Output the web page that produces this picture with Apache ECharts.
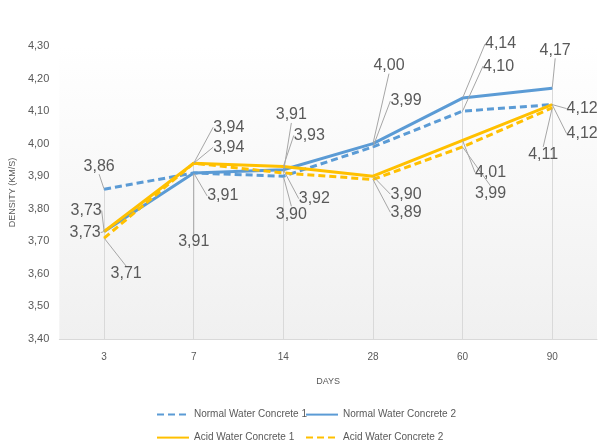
<!DOCTYPE html>
<html lang="en">
<head>
    <meta charset="UTF-8">
    <title>Density</title>
    <style>
        html, body { margin: 0; padding: 0; background: #fff; }
    </style>
</head>
<body>
<div id="main" style="width: 605px;height:443px;"></div>
<script src="https://cdn.jsdelivr.net/npm/echarts@6/dist/echarts.min.js"></script>
<script type="text/javascript">
    // data
    var days = ['3', '7', '14', '28', '60', '90'];
    var normal1 = [3.86, 3.91, 3.90, 3.99, 4.10, 4.12];
    var normal2 = [3.73, 3.91, 3.92, 4.00, 4.14, 4.17];
    var acid1 = [3.73, 3.94, 3.93, 3.90, 4.01, 4.12];
    var acid2 = [3.71, 3.94, 3.91, 3.89, 3.99, 4.11];

    // where each value label sits relative to its point (px)
    var labelShift = [
        [[-5, -23], [29, 23], [8, 38], [33, -46], [36, -45], [30, 4]],
        [[-19, 1], [0, 69], [31, 29], [16, -78], [38, -54], [3, -38]],
        [[-18, -21], [35, -36], [26, -31], [33, 18], [28, 32], [30, 29]],
        [[22, 36], [35, -16], [8, -58], [33, 33], [28, 47], [-9, 47]]
    ];

    var blue = '#5B9BD5';
    var yellow = '#FFC000';
    var textGray = '#595959';
    var fontName = 'Liberation Sans';

    var yMin = 3.4;

    // drop lines go from the highest point down to the axis
    var dropLines = days.map(function (d, i) {
        var top = Math.max(normal1[i], normal2[i], acid1[i], acid2[i]);
        return [{coord: [i, top]}, {coord: [i, yMin]}];
    });

    function comma(v) {
        return v.toFixed(2).replace('.', ',');
    }

    function makeSeries(name, data, color, type, idx) {
        return {
            name: name,
            type: 'line',
            data: data,
            color: color,
            symbol: 'circle',
            symbolSize: 1,
            itemStyle: {color: color},
            lineStyle: {color: color, width: 3, type: type},
            label: {
                show: true,
                position: 'inside',
                color: textGray,
                fontFamily: fontName,
                fontSize: 16,
                formatter: function (p) { return comma(p.value); }
            },
            labelLine: {
                show: true,
                lineStyle: {color: '#a6a6a6', width: 1}
            },
            labelLayout: function (p) {
                var sh = labelShift[idx][p.dataIndex];
                return {dx: sh[0], dy: sh[1], hideOverlap: false};
            },
            emphasis: {disabled: true},
            z: 3
        };
    }

    var myChart = echarts.init(document.getElementById('main'));

    var series = [
        makeSeries('Normal Water Concrete 1', normal1, blue, [7, 4], 0),
        makeSeries('Normal Water Concrete 2', normal2, blue, 'solid', 1),
        makeSeries('Acid Water Concrete 1', acid1, yellow, 'solid', 2),
        makeSeries('Acid Water Concrete 2', acid2, yellow, [7, 4], 3)
    ];
    series[0].markLine = {
        silent: true,
        symbol: 'none',
        label: {show: false},
        lineStyle: {color: '#d9d9d9', width: 1, type: 'solid'},
        data: dropLines,
        z: 1
    };

    // one legend box per entry so the two columns line up
    function legendAt(name, left, top) {
        return {
            data: [name],
            left: left,
            top: top,
            padding: 0,
            itemWidth: 32,
            itemHeight: 14,
            itemStyle: {opacity: 0},
            textStyle: {color: textGray, fontFamily: fontName, fontSize: 10},
            selectedMode: false
        };
    }

    var option = {
        animation: false,
        backgroundColor: '#ffffff',
        grid: {
            left: 57,
            right: 8,
            top: 46,
            bottom: 104,
            show: true,
            borderWidth: 0,
            backgroundColor: new echarts.graphic.LinearGradient(0, 0, 0, 1, [
                {offset: 0, color: '#ffffff'},
                {offset: 1, color: '#f0f0f0'}
            ])
        },
        legend: [
            legendAt('Normal Water Concrete 1', 156, 409),
            legendAt('Normal Water Concrete 2', 305, 409),
            legendAt('Acid Water Concrete 1', 156, 432),
            legendAt('Acid Water Concrete 2', 305, 432)
        ],
        xAxis: {
            type: 'category',
            data: days,
            boundaryGap: true,
            name: 'DAYS',
            nameLocation: 'middle',
            nameGap: 38,
            nameTextStyle: {color: textGray, fontFamily: fontName, fontSize: 9},
            axisLine: {lineStyle: {color: '#d9d9d9'}},
            axisTick: {show: false},
            axisLabel: {color: textGray, fontFamily: fontName, fontSize: 10, margin: 13},
            splitLine: {show: false}
        },
        yAxis: {
            type: 'value',
            min: yMin,
            max: 4.3,
            interval: 0.1,
            name: 'DENSITY (KM/S)',
            nameLocation: 'middle',
            nameRotate: 90,
            nameGap: 40,
            nameTextStyle: {color: textGray, fontFamily: fontName, fontSize: 9},
            axisLine: {show: false},
            axisTick: {show: false},
            splitLine: {show: false},
            axisLabel: {
                color: textGray,
                fontFamily: fontName,
                fontSize: 11,
                margin: 10,
                formatter: function (v) { return comma(v); }
            }
        },
        series: series
    };

    myChart.setOption(option);
</script>
</body>
</html>
